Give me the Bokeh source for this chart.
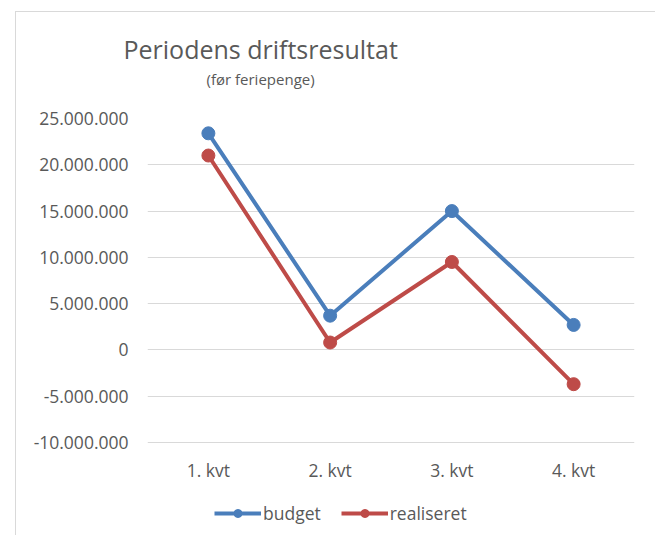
from bokeh.plotting import figure
from bokeh.models import Range1d, Legend, LegendItem, CustomJSTickFormatter, FixedTicker, Title
from bokeh.embed import file_html
from bokeh.resources import INLINE

categories = ["1. kvt", "2. kvt", "3. kvt", "4. kvt"]
budget = [23400000, 3700000, 15000000, 2700000]
realiseret = [21000000, 800000, 9500000, -3700000]
y_ticks = [-10000000, -5000000, 0, 5000000, 10000000, 15000000, 20000000, 25000000]

FONT = "Open Sans"
TXT = "#595959"
BLUE = "#4A7EBB"
RED = "#BE4B48"

# the value axis spans 324 px from -10M to 25M; the frame is extended below it
# so that the category labels and the legend sit inside the frame
AXIS_PX = 324
FRAME_H = 413
y_lo = y_ticks[0] - (FRAME_H - AXIS_PX) / AXIS_PX * (y_ticks[-1] - y_ticks[0])

p = figure(x_range=categories, y_range=Range1d(y_lo, y_ticks[-1]),
           title="Periodens driftsresultat",
           frame_width=487, frame_height=FRAME_H, output_backend="svg", toolbar_location=None,
           min_border_left=131, min_border_right=22, min_border_top=106, min_border_bottom=4)
p.margin = (11, 0, 0, 15)
p.styles = {"border-left": "1px solid #d9d9d9", "border-top": "1px solid #d9d9d9"}
p.outline_line_color = None
p.background_fill_color = "white"
p.border_fill_color = "white"

r1l = p.line(categories, budget, line_color=BLUE, line_width=4)
r1s = p.scatter(categories, budget, marker="circle", size=13, fill_color=BLUE, line_color=BLUE)
r2l = p.line(categories, realiseret, line_color=RED, line_width=4)
r2s = p.scatter(categories, realiseret, marker="circle", size=13, fill_color=RED, line_color=RED)

p.yaxis.ticker = FixedTicker(ticks=y_ticks)
p.yaxis.formatter = CustomJSTickFormatter(code="""
const s = Math.abs(tick).toFixed(0).replace(/\\B(?=(\\d{3})+(?!\\d))/g, '.');
return (tick < 0 ? '-' : '') + s;
""")
p.xaxis.fixed_location = y_ticks[0]
for ax in (p.xaxis, p.yaxis):
    ax.axis_line_color = None
    ax.major_tick_line_color = None
    ax.minor_tick_line_color = None
    ax.major_tick_out = 0
    ax.major_tick_in = 0
    ax.minor_tick_out = 0
    ax.major_label_text_font = FONT
    ax.major_label_text_font_size = "17.5px"
    ax.major_label_text_color = TXT
p.yaxis.major_label_standoff = 19
p.xaxis.major_label_standoff = 15

p.xgrid.grid_line_color = None
p.ygrid.grid_line_color = "#d9d9d9"
p.ygrid.grid_line_width = 1

p.title.text_font = FONT
p.title.text_font_size = "25px"
p.title.text_color = TXT
p.title.text_font_style = "normal"
p.title.align = "left"
p.title.offset = -24
p.title.standoff = 2

# spacer between frame and subtitle
p.add_layout(Title(text=" ", text_font_size="1px", standoff=27), "above")
p.add_layout(Title(text="(før feriepenge)", text_font=FONT, text_font_size="15px",
                   text_color=TXT, text_font_style="normal", align="left", offset=59,
                   standoff=0), "above")

legend = Legend(items=[LegendItem(label="budget", renderers=[r1l, r1s]),
                       LegendItem(label="realiseret", renderers=[r2l, r2s])],
                orientation="horizontal", location=(67, 6),
                glyph_width=47, glyph_height=20, label_standoff=2, spacing=20,
                padding=0, margin=0, border_line_color=None, background_fill_alpha=0,
                label_text_font=FONT, label_text_font_size="17.5px", label_text_color=TXT)
p.add_layout(legend, "center")

open("out.html", "w").write(file_html(p, INLINE))
